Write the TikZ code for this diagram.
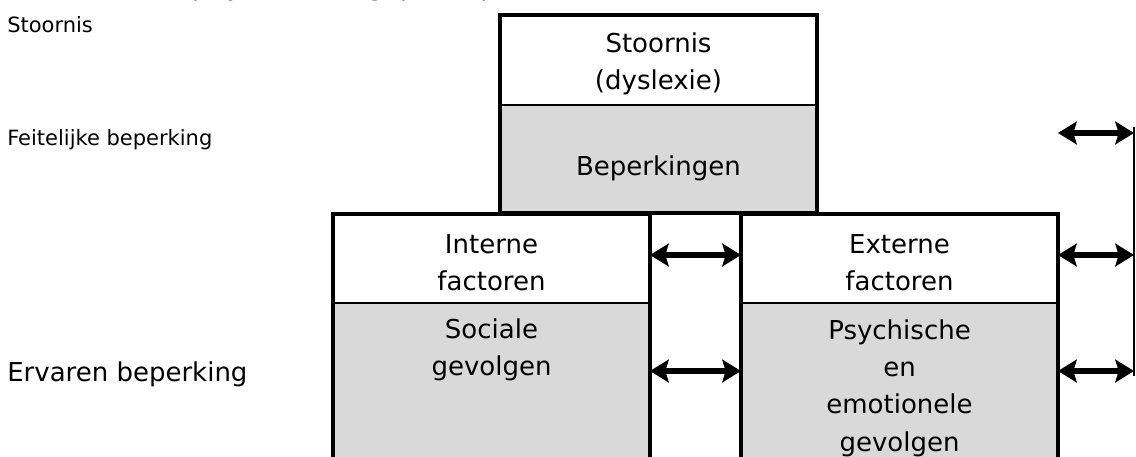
\documentclass[tikz,border=0pt]{standalone}
\usepackage{fontspec}
\setmainfont{DejaVu Sans}
\usetikzlibrary{arrows.meta}
\definecolor{boxgray}{HTML}{D9D9D9}
\begin{document}
\begin{tikzpicture}[x=0.75pt,y=-0.75pt,
  part/.style={draw=black, line width=0.9pt, minimum width=237.75pt, inner sep=0pt, outer sep=0pt},
  upper/.style={part, fill=white, minimum height=66.75pt},
  lower/.style={part, fill=boxgray},
  outerbox/.style={draw=black, line width=2.5pt},
  boxtext/.style={align=center, inner sep=0pt, font=\fontsize{19.5pt}{28pt}\selectfont},
  smalllabel/.style={anchor=west, inner sep=0pt, font=\fontsize{15.75pt}{19pt}\selectfont},
  biglabel/.style={anchor=west, inner sep=0pt, font=\fontsize{19.5pt}{24pt}\selectfont},
  dbl/.style={line width=4pt, {Stealth[length=14pt,width=17pt,inset=2.5pt]}-{Stealth[length=14pt,width=17pt,inset=2.5pt]}},
  vline/.style={draw=black, line width=1.6pt}]
\path[use as bounding box] (0,0) rectangle (1136,457);
\clip (0,0) rectangle (1136,457);
\fill[white] (0,0) rectangle (1136,457);

% cut-off heading
\node[anchor=base west, inner sep=0pt, font=\fontsize{19.5pt}{24pt}\selectfont] (title) at (7,-4.8) {Het schema bij dyslexie toegepast op het model};

% left labels
\node[smalllabel] (lstoor) at (7,25) {Stoornis};
\node[smalllabel] (lfeit) at (7,140) {Feitelijke beperking};
\node[biglabel] (lerv) at (7,374) {Ervaren beperking};

% top box
\node[upper, minimum height=67.5pt] (stoor) at (658.5,60) {};
\node[lower, minimum height=81pt] (bep) at (658.5,159) {};
% lower left box
\node[upper] (intern) at (491.5,258.5) {};
\node[lower, minimum height=133.5pt] (sociaal) at (491.5,392) {};
% lower right box
\node[upper] (extern) at (899.5,258.5) {};
\node[lower, minimum height=133.5pt] (psych) at (899.5,392) {};

% outer borders
\draw[outerbox] (stoor.north west) rectangle (bep.south east);
\draw[outerbox] (intern.north west) rectangle (sociaal.south east);
\draw[outerbox] (extern.north west) rectangle (psych.south east);

% texts
\node[boxtext] (tstoor) at (658.5,64) {Stoornis\\(dyslexie)};
\node[boxtext] (tbep) at (658.5,168) {Beperkingen};
\node[boxtext] (tint) at (491.5,263) {Interne\\factoren};
\node[boxtext] (text) at (899.5,263) {Externe\\factoren};
\node[boxtext] (tsoc) at (491.5,350) {Sociale\\gevolgen};
\node[boxtext] (tpsy) at (899.5,388) {Psychische\\en\\emotionele\\gevolgen};

% arrows
\coordinate (a0) at (1058,133);
\coordinate (a1) at (0,255);
\coordinate (a2) at (0,371);
\coordinate (vt) at (1134,127);
\coordinate (vb) at (1134,376);
\draw[vline] (vt) -- (vb);
\draw[dbl] (intern.east |- a1) -- (extern.west |- a1);
\draw[dbl] (sociaal.east |- a2) -- (psych.west |- a2);
\draw[dbl] (a0) -- (vt |- a0);
\draw[dbl] (extern.east |- a1) -- (vt |- a1);
\draw[dbl] (psych.east |- a2) -- (vt |- a2);
\end{tikzpicture}
\end{document}
